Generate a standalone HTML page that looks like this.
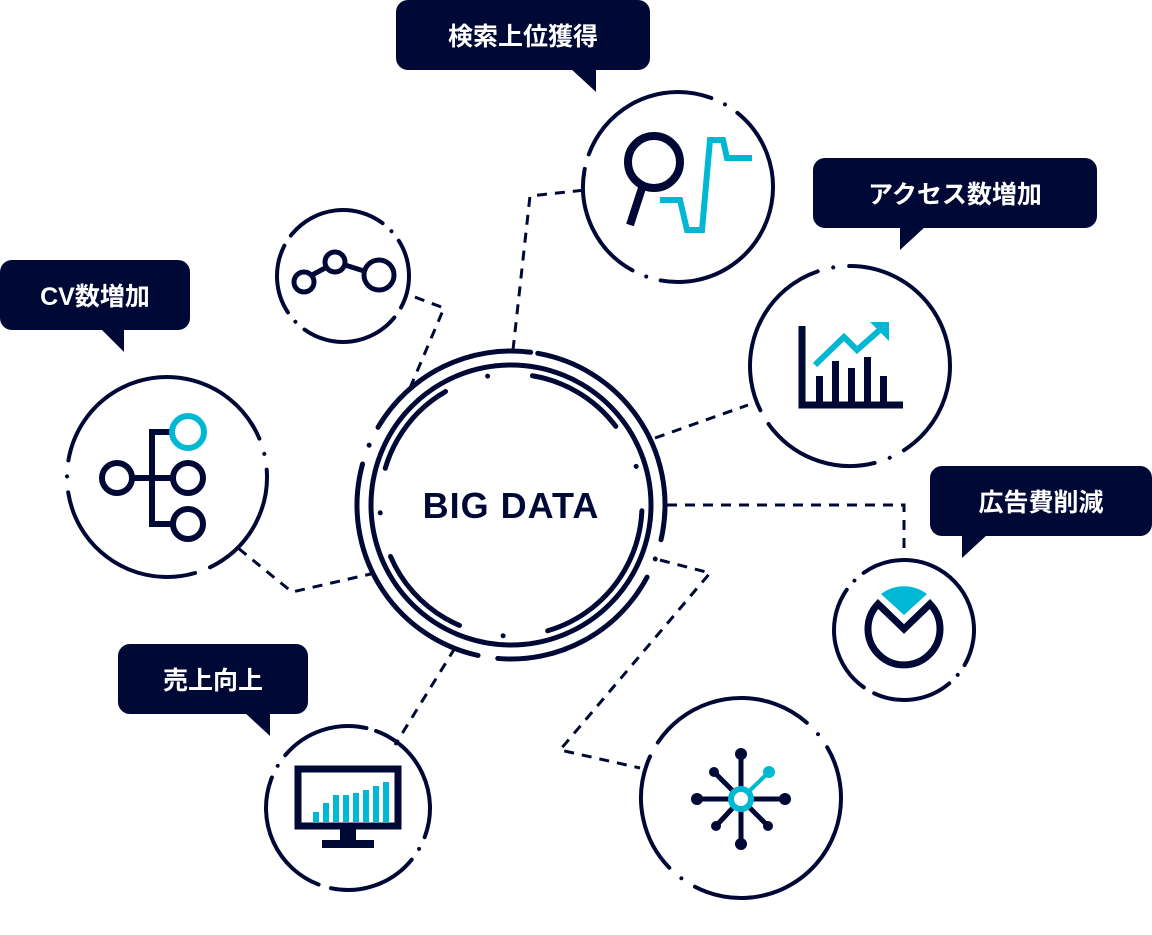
<!DOCTYPE html>
<html><head><meta charset="utf-8"><style>
html,body{margin:0;padding:0;background:#fff;}
svg{display:block}
text{font-family:"Liberation Sans","Noto Sans CJK JP",sans-serif;font-weight:bold;}
</style></head><body>
<svg width="1152" height="935" viewBox="0 0 1152 935" xmlns="http://www.w3.org/2000/svg">
<g fill="none" stroke="#000836" stroke-linecap="round">
<g stroke-width="3" stroke-dasharray="10 8" stroke-linecap="butt">
<polyline points="513,350 530,196 585,190"/>
<polyline points="410,388 444,308 412,296"/>
<line x1="655" y1="438" x2="748" y2="405"/>
<polyline points="667,505 904,505 904,556"/>
<polyline points="660,560 710,573 560,750 640,768"/>
<line x1="455" y1="648" x2="395" y2="745"/>
<polyline points="375,573 292,592 238,548"/>
</g>
<circle cx="511" cy="505" r="140" stroke-width="5"/>
<circle cx="511" cy="505" r="154" stroke-width="5" stroke-dasharray="250 20 0 20 180 20" transform="rotate(-80 511 505)"/>
<circle cx="511" cy="505" r="131" stroke-width="5" stroke-dasharray="100 45 0 45" transform="rotate(30 511 505)"/>
<g stroke-width="4">
<circle cx="678" cy="187" r="95" stroke-dasharray="150 15 0 15 120 15" transform="rotate(10 678 187)"/>
<circle cx="850" cy="366" r="100" stroke-dasharray="170 16 0 16 120 16" transform="rotate(-40 850 366)"/>
<circle cx="904" cy="630" r="70" stroke-dasharray="110 12 0 12 80 12" transform="rotate(-60 904 630)"/>
<circle cx="741" cy="798" r="100" stroke-dasharray="170 16 0 16 120 16" transform="rotate(20 741 798)"/>
<circle cx="348" cy="808" r="82" stroke-dasharray="130 13 0 13 90 13" transform="rotate(-70 348 808)"/>
<circle cx="167" cy="477" r="100" stroke-dasharray="170 16 0 16 120 16" transform="rotate(-120 167 477)"/>
<circle cx="343" cy="276" r="66" stroke-dasharray="100 12 0 12 70 12" transform="rotate(-140 343 276)"/>
</g>
</g>
<text x="511" y="518" text-anchor="middle" font-size="36" fill="#000836" letter-spacing="1">BIG DATA</text>

<g fill="#000836">
<rect x="396" y="0" width="254" height="70" rx="12"/><polygon points="570,68 596,68 596,92"/>
<rect x="813" y="158" width="284" height="70" rx="12"/><polygon points="900,226 926,226 900,250"/>
<rect x="0" y="260" width="190" height="70" rx="12"/><polygon points="100,328 124,328 124,352"/>
<rect x="930" y="466" width="222" height="70" rx="12"/><polygon points="962,534 988,534 962,558"/>
<rect x="118" y="644" width="190" height="70" rx="12"/><polygon points="244,712 270,712 270,736"/>
</g>
<g fill="#fff" font-size="25" text-anchor="middle">
<text x="523" y="45">検索上位獲得</text>
<text x="955" y="203">アクセス数増加</text>
<text x="95" y="305">CV数増加</text>
<text x="1041" y="511">広告費削減</text>
<text x="213" y="689">売上向上</text>
</g>

<circle cx="654" cy="162" r="26" fill="none" stroke="#000836" stroke-width="8"/>
<line x1="642" y1="188" x2="630" y2="225" stroke="#000836" stroke-width="8"/>
<polyline points="660,200 680,200 687,230 702,230 710,140 723,140 727,158 752,158" fill="none" stroke="#00b8d4" stroke-width="6"/>

<polyline points="802,326 802,405 903,405" fill="none" stroke="#000836" stroke-width="7"/>
<g fill="#000836"><rect x="816" y="376" width="7" height="26"/><rect x="832" y="361" width="7" height="41"/><rect x="848" y="368" width="7" height="34"/><rect x="864" y="357" width="7" height="45"/><rect x="880" y="376" width="7" height="26"/></g>
<polyline points="815,365 844,337 857,350 882,328" fill="none" stroke="#00b8d4" stroke-width="6"/>
<polygon points="870,322 889,322 889,341" fill="#00b8d4"/>

<g fill="none" stroke="#000836" stroke-width="5">
<circle cx="304" cy="282" r="10"/><circle cx="335" cy="262" r="10"/><circle cx="379" cy="275" r="15"/>
<line x1="312" y1="275" x2="327" y2="267"/><line x1="345" y1="265" x2="364" y2="271"/>
</g>

<g fill="none" stroke="#000836" stroke-width="6">
<circle cx="117" cy="478" r="15"/><circle cx="188" cy="478" r="15"/><circle cx="188" cy="524" r="15"/>
<polyline points="132,478 173,478"/><polyline points="172,432 152,432 152,524 173,524"/>
</g>
<circle cx="188" cy="432" r="16" fill="none" stroke="#00b8d4" stroke-width="6"/>

<rect x="298" y="769" width="100" height="57" fill="none" stroke="#000836" stroke-width="7"/>
<rect x="340" y="828" width="16" height="12" fill="#000836"/><rect x="322" y="840" width="52" height="8" fill="#000836"/>
<g fill="#00b8d4"><rect x="313" y="812" width="6" height="10"/><rect x="323" y="803" width="6" height="19"/><rect x="333" y="795" width="6" height="27"/><rect x="343" y="795" width="6" height="27"/><rect x="353" y="793" width="6" height="29"/><rect x="363" y="790" width="6" height="32"/><rect x="373" y="786" width="6" height="36"/><rect x="383" y="782" width="6" height="40"/></g>

<path d="M881,594 A38,38 0 0 1 927,594 L904,615 Z" fill="#00b8d4"/>
<path d="M878,604 L904,629 L930,604 A36,36 0 1 1 878,604 Z" fill="none" stroke="#000836" stroke-width="7" stroke-linejoin="miter"/>

<g stroke="#000836" stroke-width="5" fill="#000836">
<line x1="741" y1="755" x2="741" y2="843"/><line x1="697" y1="799" x2="785" y2="799"/>
<line x1="714" y1="772" x2="768" y2="826"/><line x1="716" y1="826" x2="741" y2="799"/>
<circle cx="741" cy="754" r="6" stroke="none"/><circle cx="741" cy="844" r="6" stroke="none"/>
<circle cx="697" cy="799" r="6" stroke="none"/><circle cx="785" cy="799" r="6" stroke="none"/>
<circle cx="714" cy="772" r="5" stroke="none"/><circle cx="768" cy="826" r="5" stroke="none"/><circle cx="716" cy="826" r="5" stroke="none"/>
</g>
<line x1="741" y1="799" x2="769" y2="772" stroke="#00b8d4" stroke-width="4"/>
<circle cx="769" cy="772" r="6" fill="#00b8d4"/>
<circle cx="741" cy="799" r="10" fill="#fff" stroke="#00b8d4" stroke-width="6"/>
</svg>
</body></html>
